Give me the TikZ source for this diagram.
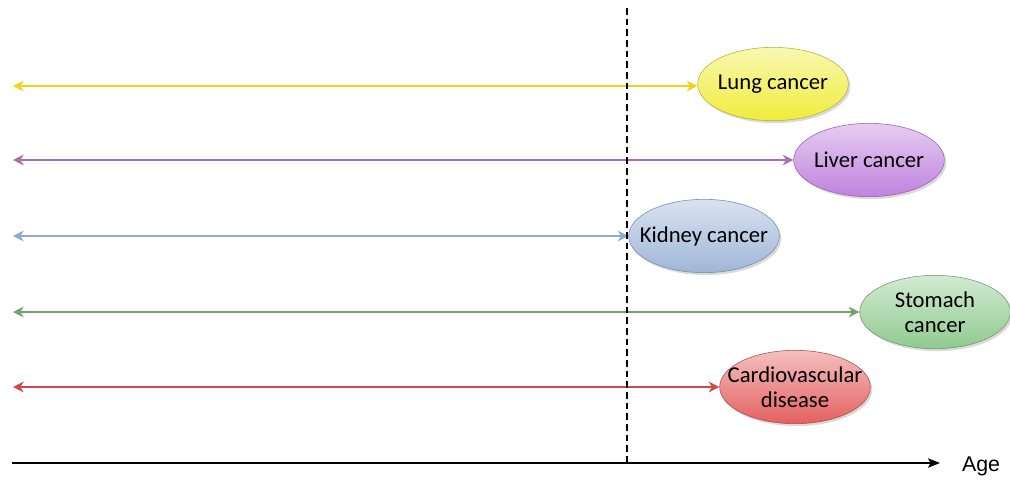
\documentclass[tikz,border=0pt]{standalone}
\usepackage{fontspec}
\setmainfont{Carlito}
\newfontfamily\agefont{Liberation Sans}
\usetikzlibrary{positioning,arrows,arrows.meta,calc,shapes.geometric,shadows}
\definecolor{lungC}{RGB}{240,212,20}
\definecolor{liverC}{RGB}{172,112,172}
\definecolor{kidneyC}{RGB}{140,170,212}
\definecolor{stomachC}{RGB}{112,162,112}
\definecolor{cardioC}{RGB}{204,74,74}
\definecolor{lungF}{RGB}{240,236,60}
\definecolor{liverF}{RGB}{192,130,222}
\definecolor{kidneyF}{RGB}{160,182,216}
\definecolor{stomachF}{RGB}{144,202,144}
\definecolor{cardioF}{RGB}{228,96,96}
\tikzset{disease/.style={
    ellipse, minimum width=113pt, minimum height=55pt, inner xsep=-12pt, inner ysep=0pt,
    align=center, font=\fontsize{17}{19}\selectfont,
    draw=#1!75!black, line width=0.4pt,
    top color=#1!40!white, bottom color=#1,
    drop shadow={shadow xshift=1.5pt, shadow yshift=-1.8pt, opacity=0.3}
    },
    span/.style={>={Stealth[length=8pt,width=8pt,inset=2.5pt]}, <->, line width=1.8pt, #1}
}
\begin{document}
\begin{tikzpicture}[>=stealth, x=0.75pt, y=-0.75pt]
	\useasboundingbox (0,0) rectangle (1010,480);
	% diseases
	\node[disease=lungF] (L) at (773,84) {Lung cancer};
	\node[disease=liverF] (V) at (869,160) {Liver cancer};
	\node[disease=kidneyF] (K) at (704,236) {Kidney cancer};
	\node[disease=stomachF] (S) at (935,312) {Stomach\\cancer};
	\node[disease=cardioF] (C) at (795,387) {Cardiovascular\\disease};
	% left ends
	\coordinate (L0) at (13,86);
	\coordinate (V0) at (13,160);
	\coordinate (K0) at (13,236);
	\coordinate (S0) at (13,312);
	\coordinate (C0) at (13,387);
	\draw [span=lungC] (L0) -- (L0 -| L.west);
	\draw [span=liverC] (V0) -- (V0 -| V.west);
	\draw [span=kidneyC] (K0) -- (K0 -| K.west);
	\draw [span=stomachC] (S0) -- (S0 -| S.west);
	\draw [span=cardioC] (C0) -- (C0 -| C.west);
	% age axis
	\coordinate (A0) at (12,463);
	\node[font=\agefont\fontsize{16}{17}\selectfont] (age) at (981,466) {Age};
	\coordinate (A1) at (940,463);
	\draw [>={Stealth[length=9pt,width=7pt,inset=2pt]}, ->, line width=1.3pt] (A0) -- (A1);
	\coordinate (T) at (627,8);
	\coordinate (B) at (627,465);
	\draw [dash pattern=on 5pt off 3pt, line width=1.1pt] (T) -- (B);
\end{tikzpicture}
\end{document}
